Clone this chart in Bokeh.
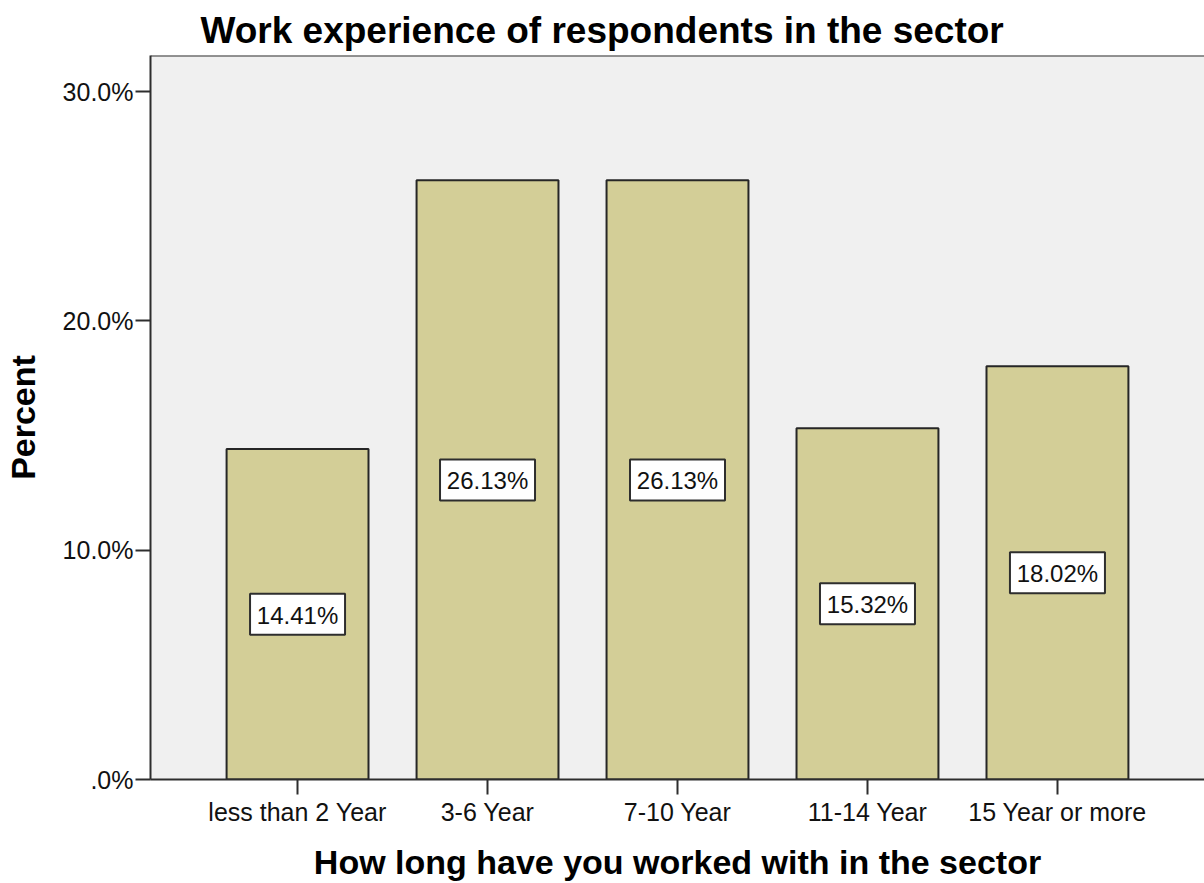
from bokeh.plotting import figure
from bokeh.models import Range1d, FixedTicker, ColumnDataSource, Span
from bokeh.core.properties import value
from bokeh.embed import file_html
from bokeh.resources import INLINE

categories = ["less than 2 Year", "3-6 Year", "7-10 Year", "11-14 Year", "15 Year or more"]
percents = [14.41, 26.13, 26.13, 15.32, 18.02]
y_ticks = [0, 10, 20, 30]
y_tick_labels = [".0%", "10.0%", "20.0%", "30.0%"]
title_text = "Work experience of respondents in the sector"
x_title = "How long have you worked with in the sector"
y_title = "Percent"

xs = list(range(len(categories)))
src = ColumnDataSource(dict(
    x=xs,
    top=percents,
    mid=[v / 2 for v in percents],
    txt=["{:.2f}%".format(v) for v in percents],
))

FONT = "Liberation Sans"

p = figure(width=1204, height=883, output_backend="svg", toolbar_location=None,
           x_range=Range1d(-0.774, 4.774), y_range=Range1d(0, 31.57),
           min_border_left=150, min_border_right=0, min_border_top=55, min_border_bottom=104)

p.background_fill_color = "#f0f0f0"
p.border_fill_color = "white"
p.outline_line_color = None
p.xgrid.grid_line_color = None
p.ygrid.grid_line_color = None

p.vbar(x="x", top="top", bottom=0, width=0.747, source=src,
       fill_color="#d3ce97", line_color="#262626", line_width=2)

p.rect(x="x", y="mid", width=95, height=41, width_units="screen", height_units="screen",
       source=src, fill_color="white", line_color="#2e2e2e", line_width=2)
p.text(x="x", y="mid", text="txt", source=src, text_align="center", text_baseline="middle",
       y_offset=1, text_font=value(FONT), text_font_size="24px", text_color="#111111")

p.add_layout(Span(location=31.57, dimension="width", line_color="#2e2e2e", line_width=2))

# title
p.title.text = title_text
p.title.align = "left"
p.title.offset = 50
p.title.text_font = FONT
p.title.text_font_size = "37px"
p.title.text_font_style = "bold"
p.title.text_color = "#000000"
p.title.standoff = 10

# x axis
xa = p.xaxis[0]
xa.ticker = FixedTicker(ticks=xs)
xa.major_label_overrides = {i: c for i, c in zip(xs, categories)}
xa.minor_tick_line_color = None
xa.major_tick_in = 0
xa.major_tick_out = 15
xa.major_tick_line_color = "#2e2e2e"
xa.major_tick_line_width = 2
xa.axis_line_color = "#2e2e2e"
xa.axis_line_width = 2
xa.major_label_text_font = FONT
xa.major_label_text_font_size = "25px"
xa.major_label_text_color = "#111111"
xa.major_label_standoff = 3
xa.axis_label = x_title
xa.axis_label_text_font = FONT
xa.axis_label_text_font_size = "34px"
xa.axis_label_text_font_style = "bold"
xa.axis_label_text_color = "#000000"
xa.axis_label_standoff = 14

# y axis
ya = p.yaxis[0]
ya.ticker = FixedTicker(ticks=y_ticks)
ya.major_label_overrides = {t: l for t, l in zip(y_ticks, y_tick_labels)}
ya.minor_tick_line_color = None
ya.major_tick_in = 0
ya.major_tick_out = 15
ya.major_tick_line_color = "#2e2e2e"
ya.major_tick_line_width = 2
ya.axis_line_color = "#2e2e2e"
ya.axis_line_width = 2
ya.major_label_text_font = FONT
ya.major_label_text_font_size = "25px"
ya.major_label_text_color = "#111111"
ya.major_label_standoff = 2
ya.axis_label = y_title
ya.axis_label_text_font = FONT
ya.axis_label_text_font_size = "34px"
ya.axis_label_text_font_style = "bold"
ya.axis_label_text_color = "#000000"
ya.axis_label_standoff = 18

open("out.html", "w").write(file_html(p, INLINE))
